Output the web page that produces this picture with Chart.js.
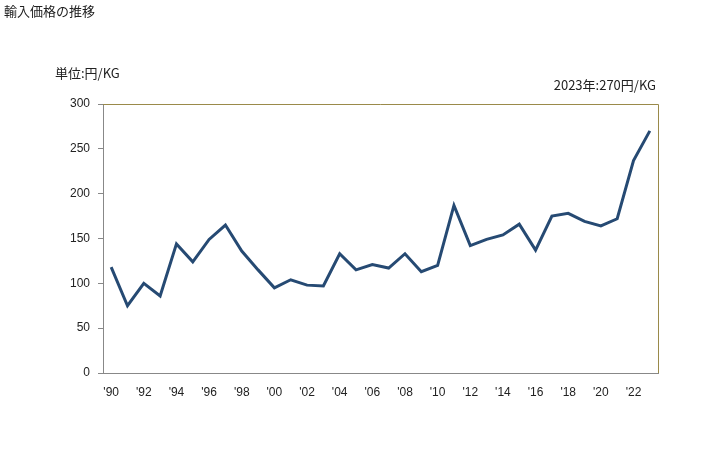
<!DOCTYPE html>
<html>
<head>
<meta charset="utf-8">
<script src="https://cdn.jsdelivr.net/npm/chart.js@4"></script>
<style>
  html, body { margin: 0; padding: 0; background: #fff; }
  #wrap { position: relative; width: 728px; height: 450px; }
  canvas { position: absolute; left: 0; top: 0; }
  .lbl { position: absolute; font-family: "Noto Sans CJK JP", "DejaVu Sans", sans-serif; color: #222; white-space: nowrap; line-height: 1; }
</style>
</head>
<body>
<div id="wrap">
  <canvas id="lineChart" width="728" height="450"></canvas>
  <div class="lbl" style="left:4px; top:4px; font-size:13px;">輸入価格の推移</div>
  <div class="lbl" style="left:55px; top:66px; font-size:13px;">単位:円/KG</div>
  <div class="lbl" style="right:72px; top:78px; font-size:13px;">2023年:270円/KG</div>
</div>
<script>
// 年 (1990-2023)
const years = [1990, 1991, 1992, 1993, 1994, 1995, 1996, 1997, 1998, 1999,
               2000, 2001, 2002, 2003, 2004, 2005, 2006, 2007, 2008, 2009,
               2010, 2011, 2012, 2013, 2014, 2015, 2016, 2017, 2018, 2019,
               2020, 2021, 2022, 2023];
// 輸入価格 (円/KG)
const prices = [118, 75, 100, 86, 144, 124, 149, 165, 136, 115,
                95, 104, 98, 97, 133, 115, 121, 117, 133, 113,
                120, 187, 142, 149, 154, 166, 137, 175, 178, 169,
                164, 172, 237, 270];
const yTicks = [0, 50, 100, 150, 200, 250, 300];

// 上と右の枠線
const frameLines = {
    id: 'frameLines',
    afterDatasetsDraw(chart) {
        const a = chart.chartArea;
        const ctx = chart.ctx;
        ctx.save();
        ctx.strokeStyle = '#9a8a4a';
        ctx.lineWidth = 1;
        ctx.beginPath();
        ctx.moveTo(a.left, a.top + 0.5);
        ctx.lineTo(a.right + 0.5, a.top + 0.5);
        ctx.lineTo(a.right + 0.5, a.bottom);
        ctx.stroke();
        ctx.restore();
    }
};

const ctx = document.getElementById('lineChart').getContext('2d');
new Chart(ctx, {
    type: 'line',
    data: {
        labels: years.map(function (y) { return "'" + String(y).slice(2); }),
        datasets: [{
            data: prices,
            borderColor: '#264a73',
            borderWidth: 3,
            pointRadius: 0,
            tension: 0,
            fill: false
        }]
    },
    options: {
        responsive: false,
        animation: false,
        layout: { padding: { top: 104, right: 70, left: 0, bottom: 0 } },
        scales: {
            x: {
                offset: true,
                grid: { display: false, drawTicks: false },
                border: { color: '#888888', width: 1 },
                afterFit: function (scale) { scale.height = 77; },
                ticks: {
                    autoSkip: false,
                    maxRotation: 0,
                    padding: 12,
                    color: '#222',
                    font: { family: 'Liberation Sans, Arial, sans-serif', size: 12 },
                    callback: function (value, index) {
                        return index % 2 === 0 ? this.getLabelForValue(value) : '';
                    }
                }
            },
            y: {
                min: 0,
                max: 300,
                afterFit: function (scale) { scale.width = 103; },
                afterBuildTicks: function (scale) {
                    scale.ticks = yTicks.map(function (v) { return { value: v }; });
                },
                grid: { drawOnChartArea: false, tickLength: 5, color: '#888888' },
                border: { color: '#888888', width: 1 },
                ticks: {
                    padding: 8,
                    color: '#222',
                    font: { family: 'Liberation Sans, Arial, sans-serif', size: 12 }
                }
            }
        },
        plugins: {
            legend: { display: false },
            tooltip: { enabled: false }
        }
    },
    plugins: [frameLines]
});
</script>
</body>
</html>
